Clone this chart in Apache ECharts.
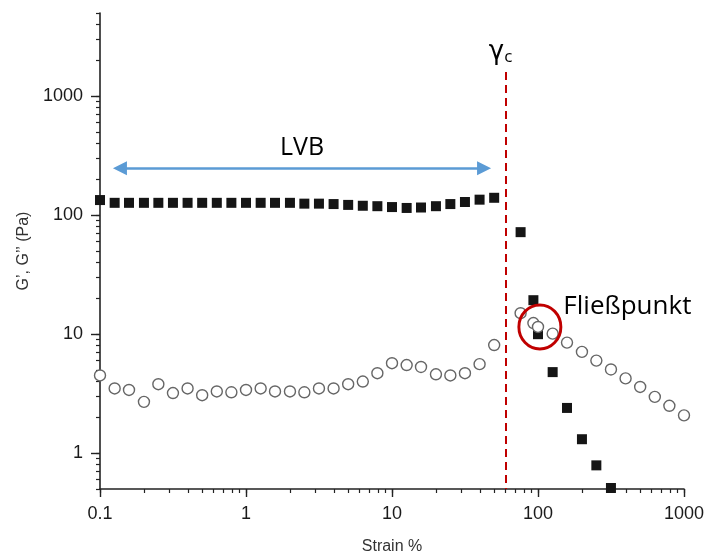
<!DOCTYPE html>
<html>
<head>
<meta charset="utf-8">
<script src="https://cdn.jsdelivr.net/npm/echarts@6/dist/echarts.min.js"></script>
<style>
  html, body { margin: 0; padding: 0; background: #fff; }
  #chart { width: 709px; height: 556px; }
</style>
</head>
<body>
<div id="chart"></div>
<script>
// storage modulus G' (filled squares)
var strainStorage = [0.1, 0.126, 0.158, 0.2, 0.251, 0.316, 0.398, 0.501, 0.631, 0.794,
  1, 1.26, 1.58, 2, 2.51, 3.16, 3.98, 5.01, 6.31, 7.94,
  10, 12.6, 15.8, 20, 25.1, 31.6, 39.8, 50.1, 76, 93,
  100, 126, 158, 200, 251, 316];
var gStorage = [134, 127, 127, 127, 127, 127, 127, 127, 127, 127,
  127, 127, 127, 127, 125, 125, 124, 122, 120, 119,
  117, 115, 116, 119, 124, 129, 135, 140, 72, 19.3,
  10, 4.8, 2.4, 1.31, 0.79, 0.51];

// loss modulus G'' (open circles)
var strainLoss = [0.1, 0.126, 0.158, 0.2, 0.251, 0.316, 0.398, 0.501, 0.631, 0.794,
  1, 1.26, 1.58, 2, 2.51, 3.16, 3.98, 5.01, 6.31, 7.94,
  10, 12.6, 15.8, 20, 25.1, 31.6, 39.8, 50.1, 76, 93,
  100, 126, 158, 200, 251, 316, 398, 501, 631, 794, 1000];
var gLoss = [4.5, 3.5, 3.4, 2.7, 3.8, 3.2, 3.5, 3.07, 3.3, 3.25,
  3.4, 3.5, 3.3, 3.3, 3.25, 3.5, 3.5, 3.8, 4.0, 4.7,
  5.7, 5.5, 5.3, 4.6, 4.5, 4.7, 5.6, 8.1, 15, 12.4,
  11.5, 10.1, 8.5, 7.1, 6.0, 5.05, 4.25, 3.6, 2.97, 2.5, 2.08];

var xMajor = [0.1, 1, 10, 100, 1000];
var yMajor = [1, 10, 100, 1000];

// annotations
var gammaC = 60;            // critical strain
var lvbRange = [0.137, 42.7];
var lvbLevel = 248;
var yieldPoint = [103, 11.5];

function logMinor(lo, hi) {
  var out = [];
  for (var d = -2; d <= 4; d++) {
    for (var m = 1; m <= 9; m++) {
      var v = +(m * Math.pow(10, d)).toPrecision(3);
      if (v >= lo - 1e-9 && v <= hi + 1e-9) out.push(v);
    }
  }
  return out;
}

function toPairs(xs, ys) {
  return xs.map(function (x, i) { return [x, ys[i]]; });
}

var tickFont = { fontFamily: 'Liberation Sans', fontSize: 18, color: '#1a1a1a' };
var fmt = function (v) { return String(+(+v).toPrecision(3)); };

var chart = echarts.init(document.getElementById('chart'));
chart.setOption({
  animation: false,
  grid: { left: 100, right: 25, top: 13, bottom: 67, outerBoundsMode: 'none', containLabel: false },
  xAxis: [
    {
      type: 'log', min: 0.1, max: 1000,
      name: 'Strain %', nameLocation: 'middle', nameGap: 50,
      nameTextStyle: { fontFamily: 'Liberation Sans', fontSize: 16, color: '#333' },
      axisLine: { lineStyle: { color: '#222', width: 1.6 } },
      axisTick: { length: 8, lineStyle: { color: '#222', width: 1.4 }, customValues: xMajor },
      axisLabel: Object.assign({ margin: 16, formatter: fmt, customValues: xMajor }, tickFont),
      splitLine: { show: false }
    },
    {
      type: 'log', min: 0.1, max: 1000, position: 'bottom',
      axisLine: { show: false },
      axisTick: { length: 4, lineStyle: { color: '#222', width: 1.2 }, customValues: logMinor(0.1, 1000) },
      axisLabel: { show: false },
      splitLine: { show: false }
    }
  ],
  yAxis: [
    {
      type: 'log', min: 0.5, max: 5000,
      name: 'G’, G’’ (Pa)', nameLocation: 'middle', nameGap: 58,
      nameTextStyle: { fontFamily: 'Liberation Sans', fontSize: 16, color: '#333' },
      axisLine: { show: true, lineStyle: { color: '#222', width: 1.6 } },
      axisTick: { show: true, length: 9, lineStyle: { color: '#222', width: 1.4 }, customValues: yMajor },
      axisLabel: Object.assign({ margin: 17, formatter: fmt, customValues: yMajor }, tickFont),
      splitLine: { show: false }
    },
    {
      type: 'log', min: 0.5, max: 5000, position: 'left',
      axisLine: { show: false },
      axisTick: { show: true, length: 4, lineStyle: { color: '#222', width: 1.2 }, customValues: logMinor(0.5, 5000) },
      axisLabel: { show: false },
      splitLine: { show: false }
    }
  ],
  series: [
    {
      name: "G'", type: 'scatter',
      symbol: 'rect', symbolSize: 10,
      itemStyle: { color: '#151515', opacity: 1 },
      data: toPairs(strainStorage, gStorage),
      z: 3
    },
    {
      name: "G''", type: 'scatter',
      symbol: 'circle', symbolSize: 11,
      itemStyle: { color: '#fff', borderColor: '#666', borderWidth: 1.4, opacity: 1 },
      data: toPairs(strainLoss, gLoss),
      z: 4
    },
    {
      name: 'Fließpunkt', type: 'scatter',
      symbol: 'circle', symbolSize: [42, 44],
      itemStyle: { color: 'rgba(0,0,0,0)', borderColor: '#c00000', borderWidth: 3, opacity: 1 },
      label: {
        show: true, position: 'right', distance: 1, offset: [0, -20],
        formatter: 'Fließpunkt',
        fontFamily: 'Open Sans', fontSize: 26, color: '#000'
      },
      data: [yieldPoint],
      z: 5,
      markLine: {
        silent: true,
        animation: false,
        data: [
          [
            {
              coord: [gammaC, 1600],
              symbol: 'none',
              lineStyle: { color: '#c00000', width: 2, type: [8, 5] },
              label: {
                show: true, position: 'start', distance: 6,
                padding: [0, 10, 0, 0],
                formatter: '{g|γ}{c|c}',
                rich: {
                  g: { fontFamily: 'DejaVu Sans', fontSize: 26, color: '#000' },
                  c: { fontFamily: 'Open Sans', fontSize: 17, color: '#000', verticalAlign: 'bottom', padding: [10, 0, 0, 0] }
                }
              }
            },
            { coord: [gammaC, 0.5], symbol: 'none' }
          ],
          [
            {
              coord: [lvbRange[0], lvbLevel],
              symbol: 'triangle',
              lineStyle: { color: '#5b9bd5', width: 2.5, type: 'solid' },
              label: {
                show: true, position: 'insideMiddleTop', distance: 8,
                formatter: 'LVB',
                fontFamily: 'Open Sans', fontSize: 25, color: '#000'
              }
            },
            { coord: [lvbRange[1], lvbLevel], symbol: 'triangle' }
          ]
        ],
        symbolSize: 14,
        itemStyle: { color: '#5b9bd5' }
      }
    }
  ]
});
</script>
</body>
</html>
